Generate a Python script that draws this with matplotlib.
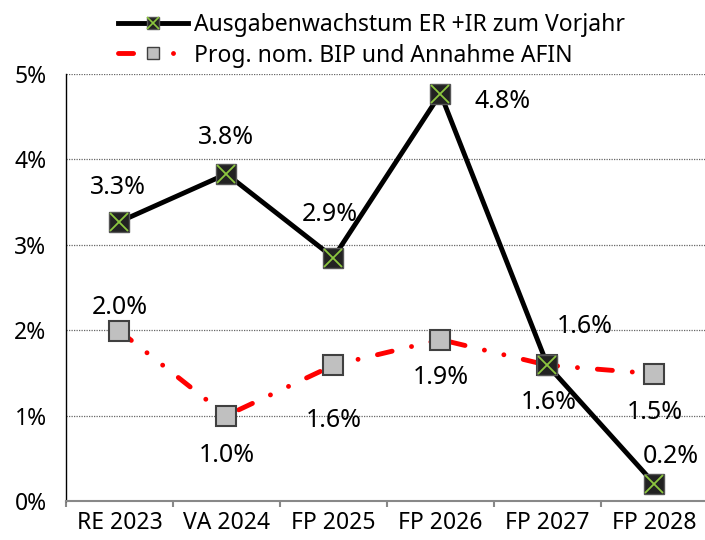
import matplotlib.pyplot as plt
import numpy as np
from matplotlib.lines import Line2D

categories = ["RE 2023", "VA 2024", "FP 2025", "FP 2026", "FP 2027", "FP 2028"]
ausgaben = [3.27, 3.83, 2.85, 4.77, 1.59, 0.20]
bip = [1.99, 1.00, 1.59, 1.89, 1.59, 1.49]
ausgaben_labels = ["3.3%", "3.8%", "2.9%", "4.8%", "1.6%", "0.2%"]
bip_labels = ["2.0%", "1.0%", "1.6%", "1.9%", "1.6%", "1.5%"]
yticks = [0, 1, 2, 3, 4, 5]

plt.rcParams['font.family'] = ['Noto Sans', 'DejaVu Sans']

RED_DASH = (0, (3.1, 4.1, 0.01, 4.1, 0.01, 4.1))

fig = plt.figure(figsize=(7.05, 5.4), dpi=100)
ax = fig.add_axes([66 / 705, 39 / 540, 642 / 705, 427 / 540])
x = np.arange(len(categories))

# grid
for y in yticks[1:]:
    ax.axhline(y, color="#666666", lw=0.9, ls=(0, (1, 1)), zorder=0)

ax.plot(x, bip, color="red", lw=3.5, linestyle=RED_DASH, dash_capstyle="round", zorder=2)
ax.plot(x, ausgaben, color="black", lw=3.5, zorder=3)

ax.plot(x, bip, ls="none", marker="s", ms=15, mfc="#c0c0c0", mec="#404040", mew=1.5, zorder=4)
ax.plot(x, ausgaben, ls="none", marker="s", ms=15, mfc="#222222", mec="#555555", mew=1, zorder=5)
ax.plot(x, ausgaben, ls="none", marker="x", ms=13, mec="#8cc63f", mew=1.3, zorder=6)

# data labels (offsets in points)
a_off = [(-1, 25), (0, 26), (-3, 31), (45, -6), (27, 28), (12, 20)]
b_off = [(0, 17), (0, -29), (0, -40), (0, -27), (1, -27), (0, -28)]
for i in range(len(x)):
    ax.annotate(ausgaben_labels[i], (x[i], ausgaben[i]), xytext=a_off[i], textcoords="offset points",
                ha="center", va="center", fontsize=18)
    ax.annotate(bip_labels[i], (x[i], bip[i]), xytext=b_off[i], textcoords="offset points",
                ha="center", va="center", fontsize=18)

ax.set_xlim(-0.5, 5.5)
ax.set_ylim(0, 5)
ax.set_yticks(yticks)
ax.set_yticklabels([f"{v}%" for v in yticks], fontsize=16.5)
ax.set_xticks(x)
ax.set_xticklabels(categories, fontsize=16.5)
ax.set_xticks(np.arange(-0.5, 6, 1), minor=True)
ax.tick_params(axis="x", which="major", length=0, pad=7)
ax.tick_params(axis="x", which="minor", length=4, width=1.5, color="#888888")
ax.tick_params(axis="y", length=0, pad=14)

for s in ["top", "right"]:
    ax.spines[s].set_visible(False)
ax.spines["left"].set_color("black")
ax.spines["left"].set_linewidth(1)
ax.spines["bottom"].set_color("#888888")
ax.spines["bottom"].set_linewidth(1.5)

# legend
h1 = (Line2D([], [], color="black", lw=3.5),
      Line2D([], [], ls="none", marker="s", ms=9, mfc="#222222", mec="#555555"),
      Line2D([], [], ls="none", marker="x", ms=8, mec="#8cc63f", mew=1.2))
h2 = (Line2D([], [], color="red", lw=3.5, linestyle=RED_DASH, dash_capstyle="round"),
      Line2D([], [], ls="none", marker="s", ms=9, mfc="#c0c0c0", mec="#404040"))
fig.legend([h1, h2], ["Ausgabenwachstum ER +IR zum Vorjahr", "Prog. nom. BIP und Annahme AFIN"],
           loc="upper left", bbox_to_anchor=(97 / 705, 1 + 8 / 540), frameon=False, fontsize=16.5,
           handlelength=3.05, handletextpad=0.3, labelspacing=0.3)

fig.savefig("out.png", dpi=100)
